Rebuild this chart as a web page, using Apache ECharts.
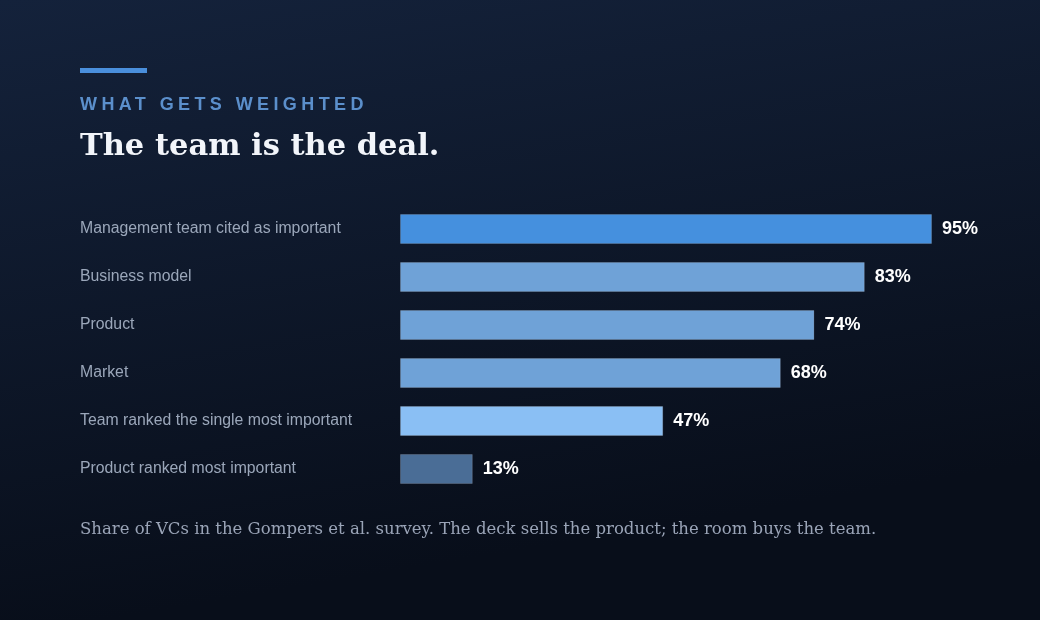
<!DOCTYPE html>
<html>
<head>
<meta charset="utf-8">
<script src="https://cdn.jsdelivr.net/npm/echarts@6/dist/echarts.min.js"></script>
<style>
html,body{margin:0;padding:0;background:#0c1322;}
#wrap{position:relative;width:1040px;height:620px;}
#chart{position:absolute;left:0;top:0;width:1040px;height:620px;}
#kicker{position:absolute;left:80px;top:94px;font-family:"Liberation Sans",Arial,sans-serif;font-weight:bold;font-size:18px;letter-spacing:4.4px;color:#5b8fcb;line-height:20px;white-space:nowrap;}
</style>
</head>
<body>
<div id="wrap">
	<div id="chart"></div>
	<div id="kicker">WHAT GETS WEIGHTED</div>
</div>
<script>
// 数据
var categories = ['Management team cited as important','Business model','Product','Market','Team ranked the single most important','Product ranked most important'];
var values = [95, 83, 74, 68, 47, 13];
var barColors = ['#4590de', '#6fa2d7', '#6fa2d7', '#6fa2d7', '#8abff4', '#4a6d96'];

var chart = echarts.init(document.getElementById('chart'));

var seriesData = values.map(function(v, i){
	return {value: v, itemStyle: {color: barColors[i]}};
});

var option = {
	backgroundColor: {
		type: 'linear', x: 0, y: 0, x2: 0.1, y2: 1,
		colorStops: [{offset: 0, color: '#14223b'}, {offset: 1, color: '#080e1a'}]
	},
	animation: false,
	grid: {left: 400, top: 205, width: 560, height: 288, containLabel: false},
	xAxis: {
		type: 'value', min: 0, max: 100,
		show: false
	},
	yAxis: {
		type: 'category',
		data: categories,
		inverse: true,
		axisLine: {show: false},
		axisTick: {show: false},
		splitLine: {show: false},
		axisLabel: {
			align: 'left',
			margin: 320,
			color: '#9ba7ba',
			fontSize: 15.8,
			fontFamily: 'Liberation Sans, Arial, sans-serif'
		}
	},
	series: [{
		type: 'bar',
		data: seriesData,
		barWidth: 30,
		itemStyle: {borderColor: 'rgba(255,255,255,0.15)', borderWidth: 1},
		label: {
			show: true,
			position: 'right',
			distance: 10,
			formatter: '{c}%',
			color: '#ffffff',
			fontSize: 18,
			fontWeight: 'bold',
			fontFamily: 'Liberation Sans, Arial, sans-serif'
		}
	}],
	graphic: [
		{type: 'rect', left: 80, top: 68, shape: {width: 67, height: 5}, style: {fill: '#4a8fdc'}},
		{type: 'text', left: 80, top: 132, style: {text: 'The team is the deal.', fill: '#f2f5fa', font: 'bold 30.5px "DejaVu Serif", Georgia, serif'}},
		{type: 'text', left: 80, top: 521, style: {text: 'Share of VCs in the Gompers et al. survey. The deck sells the product; the room buys the team.', fill: '#9aa4b7', font: '16.5px "DejaVu Serif", Georgia, serif'}}
	]
};
chart.setOption(option);
</script>
</body>
</html>
